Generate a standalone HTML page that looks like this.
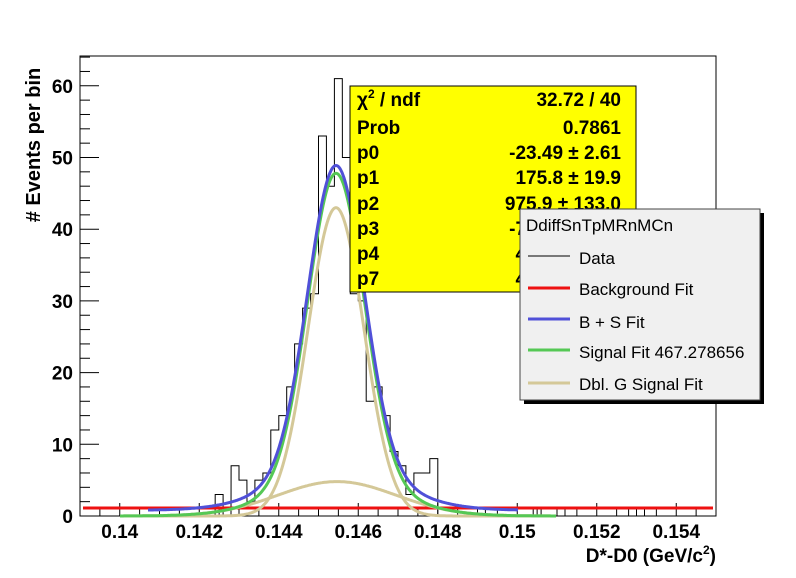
<!DOCTYPE html>
<html><head><meta charset="utf-8"><style>
html,body{margin:0;padding:0;background:#fff;}
svg text{font-family:"Liberation Sans",Arial,sans-serif;}
</style></head><body>
<svg id="s" width="796" height="573" xmlns="http://www.w3.org/2000/svg">
<rect x="0" y="0" width="796" height="573" fill="#fff"/>
<rect x="80" y="56" width="636" height="460" fill="none" stroke="#000" stroke-width="1"/>
<g id="ticks" stroke="#000" stroke-width="1"></g>
<g font-weight="bold" font-size="19" fill="#000" id="labels"></g>
<text x="716" y="562" text-anchor="end" font-weight="bold" font-size="19">D*-D0 (GeV/c<tspan font-size="12" dy="-8">2</tspan><tspan dy="8">)</tspan></text>
<text transform="translate(40,145) rotate(-90)" text-anchor="middle" font-weight="bold" font-size="20"># Events per bin</text>
<path id="hist" fill="none" stroke="#000" stroke-width="1"/>
<path id="red" fill="none" stroke="#ee1111" stroke-width="3"/>
<path id="tanw" fill="none" stroke="#d4c898" stroke-width="3"/>
<path id="tann" fill="none" stroke="#d4c898" stroke-width="3"/>
<path id="green" fill="none" stroke="#55c855" stroke-width="3"/>
<path id="blue" fill="none" stroke="#5050d8" stroke-width="3"/>
<rect x="350" y="86" width="286" height="206" fill="#ffff00" stroke="#000" stroke-width="1"/>
<g font-weight="bold" font-size="19">
<text x="357" y="106">χ<tspan font-size="12" dy="-8">2</tspan><tspan dy="8"> / ndf</tspan></text>
<text x="621" y="106" text-anchor="end">32.72 / 40</text>
<text x="357" y="134">Prob</text><text x="621" y="134" text-anchor="end">0.7861</text>
<text x="357" y="159">p0</text><text x="621" y="159" text-anchor="end">-23.49 ± 2.61</text>
<text x="357" y="184">p1</text><text x="621" y="184" text-anchor="end">175.8 ± 19.9</text>
<text x="357" y="210">p2</text><text x="621" y="210" text-anchor="end">975.9 ± 133.0</text>
<text x="357" y="235">p3</text><text x="621" y="235" text-anchor="end">-700.0 ± 95.0</text>
<text x="357" y="260">p4</text><text x="621" y="260" text-anchor="end">42.00 ± 3.00</text>
<text x="357" y="285">p7</text><text x="621" y="285" text-anchor="end">4.800 ± 1.00</text>
</g>
<rect x="524" y="213" width="240" height="191" fill="#000"/>
<rect x="520" y="209" width="240" height="191" fill="#f0f0f0" stroke="#444" stroke-width="1"/>
<g font-size="17">
<text x="526" y="231">DdiffSnTpMRnMCn</text>
<line x1="528" y1="256" x2="570" y2="256" stroke="#000" stroke-width="1"/><text x="579" y="264">Data</text>
<line x1="528" y1="288" x2="570" y2="288" stroke="#ee1111" stroke-width="3"/><text x="579" y="295">Background Fit</text>
<line x1="528" y1="319" x2="570" y2="319" stroke="#5050d8" stroke-width="3"/><text x="579" y="328">B + S Fit</text>
<line x1="528" y1="350" x2="570" y2="350" stroke="#55c855" stroke-width="3"/><text x="579" y="358">Signal Fit 467.278656</text>
<line x1="528" y1="383" x2="570" y2="383" stroke="#d4c898" stroke-width="3"/><text x="579" y="390">Dbl. G Signal Fit</text>
</g>
</svg>
<script>
var Y=function(v){return 516-v*7.17;};
var X=function(x){return 80+(x-0.139)*39750;};
var t="",l="";
for(var v=0;v<=64;v+=2){var len=(v%10==0)?19:10;t+='<line x1="80" y1="'+Y(v)+'" x2="'+(80+len)+'" y2="'+Y(v)+'"/>';
 if(v%10==0)l+='<text x="73" y="'+(Y(v)+7)+'" text-anchor="end">'+v+'</text>';}
for(var i=0;i<=32;i++){var x=0.139+i*0.0005,px=X(x);var maj=(Math.round(x*10000)%20==0);
 t+='<line x1="'+px+'" y1="516" x2="'+px+'" y2="'+(maj?503:509)+'"/>';
 if(maj){var s=(Math.round(x*1000)/1000).toString();l+='<text x="'+px+'" y="538" text-anchor="middle">'+s+'</text>';}}
document.getElementById('ticks').innerHTML=t;document.getElementById('labels').innerHTML=l;
var h={17:3,19:7,20:5,21:2,22:5,23:6,24:12,25:14,26:18,27:24,28:29,29:31,30:53,31:46,32:61,33:50,34:31,35:30,36:16,37:18,38:14,39:9,40:7,41:3,42:6,43:6,44:8,50:1,57:1,60:1,69:1,70:1};
var bw=7.95,d="M80 516";
for(var k=0;k<80;k++){var v=h[k]||0;var x0=80+k*bw,x1=x0+bw;d+=" L"+x0.toFixed(1)+" "+Y(v).toFixed(1)+" L"+x1.toFixed(1)+" "+Y(v).toFixed(1);}
d+=" L716 516";document.getElementById('hist').setAttribute('d',d);
document.getElementById('red').setAttribute('d','M83 508 L713 508');
function n(p){return 43*Math.exp(-0.5*Math.pow((p-336)/28,2));}
function w(p){return 4.8*Math.exp(-0.5*Math.pow((p-337)/59,2));}
function path(f,a,b){var s="";for(var p=a;p<=b;p+=1){s+=(p==a?"M":" L")+p+" "+Y(f(p)).toFixed(1);}return s;}
document.getElementById('tanw').setAttribute('d',path(w,120,556));
document.getElementById('tann').setAttribute('d',path(n,120,556));
document.getElementById('green').setAttribute('d',path(function(p){return n(p)+w(p);},120,556));
document.getElementById('blue').setAttribute('d',path(function(p){return n(p)*0.99+w(p)*1.15+0.8;},148,518));
</script>
</body></html>
